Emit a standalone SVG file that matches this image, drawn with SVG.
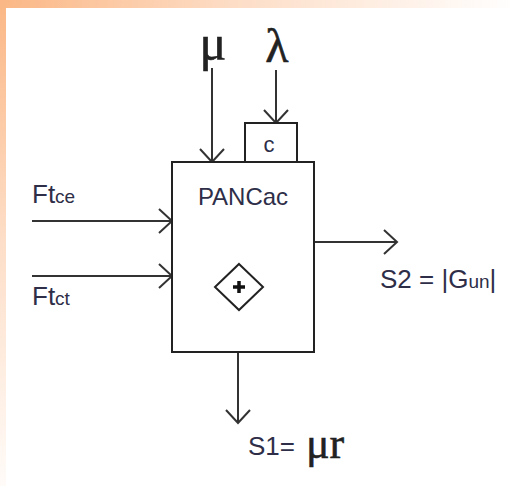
<svg xmlns="http://www.w3.org/2000/svg" width="510" height="486" viewBox="0 0 510 486">
<style>
.ln{stroke:#333;stroke-width:2;fill:none}
.bx{stroke:#222;stroke-width:2;fill:#fff}
.sans{font-family:"Liberation Sans",Arial,sans-serif;fill:#2e2e48}
.serif{font-family:"Liberation Serif","Times New Roman",serif;fill:#222}
</style>
<defs>
<radialGradient id="bg" cx="0" cy="0" r="520" gradientUnits="userSpaceOnUse">
<stop offset="0" stop-color="#fbb785"/>
<stop offset="0.45" stop-color="#fdddc6"/>
<stop offset="1" stop-color="#ffffff"/>
</radialGradient>
<marker id="ah" viewBox="-14 -14 16 28" markerWidth="16" markerHeight="28" refX="0" refY="0" orient="auto" markerUnits="userSpaceOnUse">
<path d="M-13,-12 L0,0 L-13,12" fill="none" stroke="#333" stroke-width="2"/>
</marker>
</defs>
<rect width="510" height="486" fill="url(#bg)"/>
<rect x="6" y="8" width="504" height="478" fill="#fff"/>
<g id="connectors">
<line class="ln" x1="212" y1="68" x2="212" y2="162" marker-end="url(#ah)"/>
<line class="ln" x1="276" y1="70" x2="276" y2="123" marker-end="url(#ah)"/>
<line class="ln" x1="32" y1="221" x2="172" y2="221" marker-end="url(#ah)"/>
<line class="ln" x1="32" y1="276" x2="172" y2="276" marker-end="url(#ah)"/>
<line class="ln" x1="314" y1="242" x2="397" y2="242" marker-end="url(#ah)"/>
<line class="ln" x1="238" y1="352" x2="238" y2="423" marker-end="url(#ah)"/>
</g>
<g id="PANCac">
<rect class="bx" x="172" y="162" width="142" height="190"/>
<text class="sans" x="243" y="205" font-size="24" text-anchor="middle">PANCac</text>
<path d="M239,264 L263,287 L239,310 L215,287 Z" fill="none" stroke="#222" stroke-width="2"/>
<path d="M239,281 V293 M233,287 H245" stroke="#111" stroke-width="3.5"/>
</g>
<g id="C">
<rect class="bx" x="245" y="123" width="52" height="39"/>
<text class="sans" x="269" y="152" font-size="22" text-anchor="middle" fill="#333">c</text>
</g>
<g id="labels">
<text class="serif" x="213" y="60" font-size="50" text-anchor="middle" stroke="#222" stroke-width="0.6">μ</text>
<text class="serif" x="277" y="62" font-size="48" text-anchor="middle" stroke="#222" stroke-width="0.6">λ</text>
<text class="sans" x="32" y="203" font-size="26">Ft<tspan font-size="19">ce</tspan></text>
<text class="sans" x="32" y="305" font-size="26">Ft<tspan font-size="19">ct</tspan></text>
<text class="sans" x="380" y="288" font-size="26">S2 = |G<tspan font-size="19">un</tspan>|</text>
<text class="sans" x="248" y="455" font-size="26" fill="#555">S1=</text>
<text class="serif" x="306" y="458" font-size="44" stroke="#222" stroke-width="0.5">μr</text>
</g>
</svg>
